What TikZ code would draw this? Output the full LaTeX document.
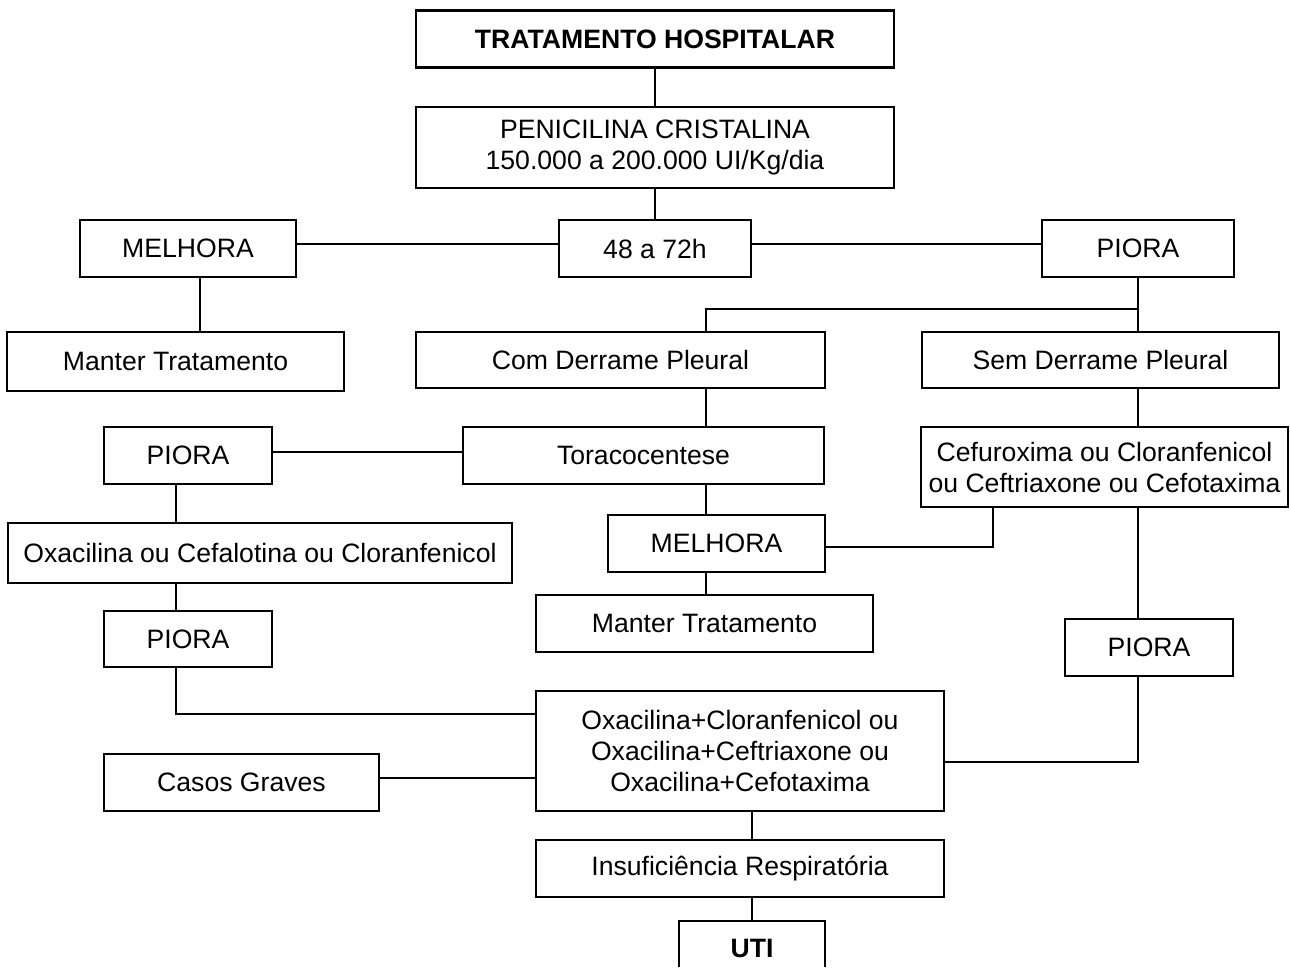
\documentclass[tikz,border=0pt]{standalone}
\usepackage{fontspec}
\setmainfont{Liberation Sans}
\begin{document}
\begin{tikzpicture}[x=1pt,y=-1pt,
  every path/.style={line width=2.1pt},
  txt/.style={inner sep=0pt, align=center, font=\fontsize{26.6}{31}\selectfont},
  box/.style={txt, draw, line width=2.1pt},
  bbox/.style={box, font=\fontsize{26.6}{31}\selectfont\bfseries}]
\useasboundingbox (0,0) rectangle (1290,974);

% boxes
\node[bbox, minimum width=478, minimum height=57] (trat) at (655,39) {TRATAMENTO HOSPITALAR};
\node[box, minimum width=478, minimum height=81] (peni) at (655,147.5) {PENICILINA CRISTALINA\\150.000 a 200.000 UI/Kg/dia};
\node[box, minimum width=216, minimum height=57] (mel1) at (188,248.5) {MELHORA};
\node[box, minimum width=192, minimum height=57] (h48) at (655,248.5) {48 a 72h};
\node[box, minimum width=192, minimum height=57] (pio1) at (1138,248.5) {PIORA};
\node[box, minimum width=337, minimum height=59] (man1) at (175.5,361.5) {Manter Tratamento};
\node[box, minimum width=409, minimum height=56] (com) at (620.5,360) {Com Derrame Pleural};
\node[box, minimum width=357, minimum height=56] (sem) at (1100.5,360) {Sem Derrame Pleural};
\node[box, minimum width=168, minimum height=57] (pio2) at (188,455.5) {PIORA};
\node[box, minimum width=361, minimum height=57] (tor) at (643.5,455.5) {Toracocentese};
\node[box, minimum width=367, minimum height=80] (cef) at (1104.5,467) {Cefuroxima ou Cloranfenicol\\ou Ceftriaxone ou Cefotaxima};
\node[box, minimum width=504, minimum height=60] (oxa1) at (260,553) {Oxacilina ou Cefalotina ou Cloranfenicol};
\node[box, minimum width=217, minimum height=57] (mel2) at (716.5,543.5) {MELHORA};
\node[box, minimum width=337, minimum height=57] (man2) at (704.5,623.5) {Manter Tratamento};
\node[box, minimum width=168, minimum height=56] (pio3) at (188,639) {PIORA};
\node[box, minimum width=168, minimum height=57] (pio4) at (1149,647.5) {PIORA};
\node[box, minimum width=408, minimum height=120] (oxa2) at (740,751) {Oxacilina+Cloranfenicol ou\\Oxacilina+Ceftriaxone ou\\Oxacilina+Cefotaxima};
\node[box, minimum width=275, minimum height=57] (cas) at (241.5,782.5) {Casos Graves};
\node[box, minimum width=408, minimum height=57] (ins) at (740,868.5) {Insuficiência Respiratória};
\node[txt, font=\fontsize{26.6}{31}\selectfont\bfseries, minimum width=144, minimum height=52] (uti) at (752,948) {UTI};
\draw ([yshift=8pt]uti.south west) -- (uti.north west) -- (uti.north east) -- ([yshift=8pt]uti.south east);

% connector tracks
\coordinate (tA) at (200,0);
\coordinate (tB) at (706,0);
\coordinate (tC) at (1138,0);
\coordinate (tD) at (176,0);
\coordinate (tE) at (752,0);
\coordinate (tF) at (993,0);
\coordinate (hA) at (0,244);
\coordinate (hB) at (0,309);
\coordinate (hC) at (0,547);
\coordinate (hD) at (0,714);
\coordinate (hE) at (0,762);
\coordinate (hF) at (0,778);
\coordinate (hG) at (0,452);

% connectors
\draw (trat) -- (peni);
\draw (peni) -- (h48);
\draw (mel1.east |- hA) -- (h48.west |- hA);
\draw (h48.east |- hA) -- (pio1.west |- hA);
\draw (tA |- mel1.south) -- (tA |- man1.north);
\draw (tC |- pio1.south) -- (tC |- sem.north);
\draw (tC |- hB) -- (tB |- hB) -- (tB |- com.north);
\draw (tB |- com.south) -- (tB |- tor.north);
\draw (tB |- tor.south) -- (tB |- mel2.north);
\draw (tB |- mel2.south) -- (tB |- man2.north);
\draw (tor.west |- hG) -- (pio2.east |- hG);
\draw (tD |- pio2.south) -- (tD |- oxa1.north);
\draw (tD |- oxa1.south) -- (tD |- pio3.north);
\draw (tD |- pio3.south) -- (tD |- hD) -- (oxa2.west |- hD);
\draw (cas.east |- hF) -- (oxa2.west |- hF);
\draw (tC |- sem.south) -- (tC |- cef.north);
\draw (tF |- cef.south) -- (tF |- hC) -- (mel2.east |- hC);
\draw (tC |- cef.south) -- (tC |- pio4.north);
\draw (tC |- pio4.south) -- (tC |- hE) -- (oxa2.east |- hE);
\draw (tE |- oxa2.south) -- (tE |- ins.north);
\draw (tE |- ins.south) -- (tE |- uti.north);
\end{tikzpicture}
\end{document}
